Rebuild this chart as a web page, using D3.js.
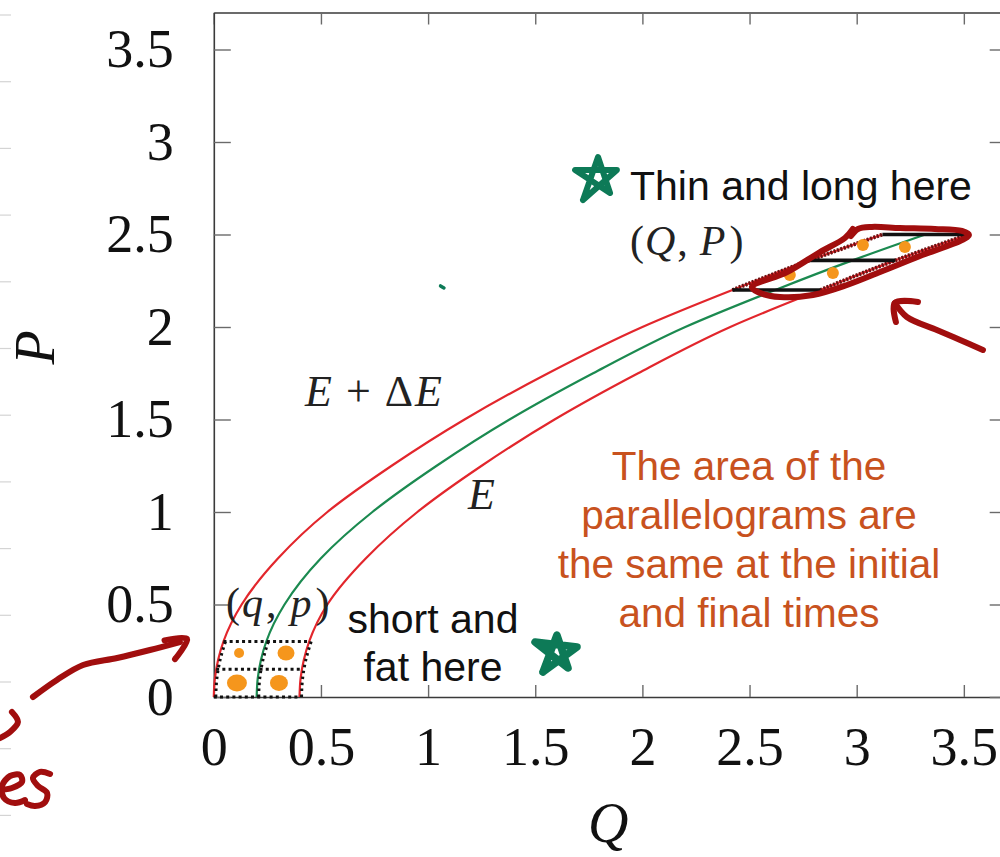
<!DOCTYPE html>
<html>
<head>
<meta charset="utf-8">
<script src="https://cdn.jsdelivr.net/npm/d3@7"></script>
<style>
  body { margin: 0; background: #fff; }
  svg { display: block; }
</style>
</head>
<body>
<script>
// chart values
var qTicks = [0, 0.5, 1, 1.5, 2, 2.5, 3, 3.5];
var qTickLabels = ["0", "0.5", "1", "1.5", "2", "2.5", "3", "3.5"];
var pTicks = [0, 0.5, 1, 1.5, 2, 2.5, 3, 3.5];
var pTickLabels = ["0", "0.5", "1", "1.5", "2", "2.5", "3", "3.5"];

// energy curves, Q read at each P
var curveP = [0, 0.1, 0.2, 0.3, 0.5, 0.75, 1, 1.25, 1.5, 1.75, 2, 2.2, 2.36, 2.5];
var innerQ = [0, 0.005, 0.02, 0.045, 0.13, 0.3, 0.53, 0.83, 1.17, 1.56, 2.0, 2.42, 2.78, 3.12];
var middleQ = [0.2, 0.205, 0.22, 0.245, 0.33, 0.5, 0.74, 1.04, 1.38, 1.77, 2.2, 2.62, 2.98, 3.32];
var outerQ = [0.4, 0.405, 0.42, 0.445, 0.53, 0.71, 0.95, 1.25, 1.59, 1.98, 2.41, 2.83, 3.18, 3.52];

// horizontal edges of the cells: [P, Q start, Q end]
var initialEdges = [[0, 0, 0.4], [0.15, 0.011, 0.411], [0.3, 0.045, 0.445]];
var finalEdges = [[2.2, 2.42, 2.83], [2.36, 2.78, 3.18], [2.5, 3.12, 3.52]];

// orange points [Q, P]
var initialPoints = [[0.118, 0.238], [0.337, 0.238], [0.108, 0.076], [0.304, 0.076]];
var finalPoints = [[2.688, 2.281], [2.889, 2.292], [3.029, 2.443], [3.225, 2.432]];

// hand drawn notes, in [Q, P]
var loopStroke = [[2.973, 2.492], [3.006, 2.530], [3.071, 2.541], [3.202, 2.535], [3.365, 2.530],
  [3.491, 2.519], [3.524, 2.497], [3.491, 2.470], [3.295, 2.384], [3.109, 2.297], [2.955, 2.227],
  [2.796, 2.173], [2.642, 2.162], [2.539, 2.189], [2.511, 2.216], [2.675, 2.297], [2.829, 2.405],
  [2.945, 2.481], [2.982, 2.530]];
var rightArrow = [[3.589, 1.876], [3.483, 1.930], [3.374, 1.984], [3.234, 2.054], [3.178, 2.130]];
var rightArrowHead = [[3.183, 2.027], [3.178, 2.130], [3.286, 2.135]];
var leftArrow = [[-0.844, 0], [-0.732, 0.092], [-0.610, 0.173], [-0.451, 0.211], [-0.298, 0.254], [-0.158, 0.297]];
var leftArrowHead = [[-0.230, 0.306], [-0.125, 0.314], [-0.181, 0.205]];
var letterS1 = [[-0.942, -0.081], [-0.914, -0.135], [-0.951, -0.189], [-0.998, -0.222]];
var letterE = [[-0.998, -0.503], [-0.942, -0.492], [-0.895, -0.459], [-0.904, -0.422], [-0.951, -0.427],
  [-0.988, -0.481], [-0.979, -0.546], [-0.928, -0.573], [-0.881, -0.557]];
var letterS2 = [[-0.764, -0.416], [-0.811, -0.405], [-0.844, -0.438], [-0.820, -0.481], [-0.778, -0.519],
  [-0.787, -0.568], [-0.834, -0.589], [-0.872, -0.578]];
var starTop = [[1.723, 2.686], [1.793, 2.919], [1.849, 2.724], [1.686, 2.849], [1.881, 2.849], [1.723, 2.686]];
var starBottom = [[1.536, 0.135], [1.601, 0.335], [1.653, 0.157], [1.499, 0.297], [1.695, 0.270], [1.536, 0.135]];
var greenSpeck = [[1.058, 2.222], [1.074, 2.211]];

var noteLines = ["The area of the", "parallelograms are", "the same at the initial", "and final times"];

var svgWidth = 1000;
var svgHeight = 857;

var svg = d3.select("body")
  .append("svg")
  .attr("width", svgWidth)
  .attr("height", svgHeight);

var xScale = d3.scaleLinear().domain([0, 3.7]).range([213.8, 1006.7]);
var yScale = d3.scaleLinear().domain([0, 3.7]).range([697, 12.5]);

// faint notebook rules on the left edge
svg.append("g")
  .selectAll("line")
  .data(d3.range(13))
  .enter()
  .append("line")
  .attr("x1", 0)
  .attr("x2", 11)
  .attr("y1", i => 15 + i * 66.7)
  .attr("y2", i => 15 + i * 66.7)
  .attr("stroke", "#d4d4d4")
  .attr("stroke-width", 1.2);

var tickFont = "'Liberation Serif', 'Times New Roman', serif";

function styleAxis(g) {
  g.select(".domain").attr("stroke", "#3a3a3a").attr("stroke-width", 1.6);
  g.selectAll(".tick line").attr("stroke", "#6a6a6a").attr("stroke-width", 1.4);
  g.selectAll(".tick text")
    .attr("fill", "#111")
    .style("font-family", tickFont)
    .style("font-size", "54px");
}

svg.append("g")
  .attr("transform", `translate(0, ${yScale(0)})`)
  .call(d3.axisBottom(xScale).tickValues(qTicks).tickSize(-12).tickSizeOuter(0).tickPadding(30)
    .tickFormat((d, i) => qTickLabels[i]))
  .call(styleAxis);

svg.append("g")
  .attr("transform", `translate(0, ${yScale(3.7)})`)
  .call(d3.axisTop(xScale).tickValues(qTicks).tickSize(-12).tickSizeOuter(0).tickFormat(""))
  .call(styleAxis);

svg.append("g")
  .attr("transform", `translate(${xScale(0)}, 0)`)
  .call(d3.axisLeft(yScale).tickValues(pTicks).tickSize(-17).tickSizeOuter(0).tickPadding(40)
    .tickFormat((d, i) => pTickLabels[i]))
  .call(styleAxis);

svg.append("g")
  .attr("transform", `translate(${xScale(3.7)}, 0)`)
  .call(d3.axisRight(yScale).tickValues(pTicks).tickSize(-17).tickSizeOuter(0).tickFormat(""))
  .call(styleAxis);

// axis titles
svg.append("text")
  .attr("x", xScale(1.84))
  .attr("y", 842)
  .attr("text-anchor", "middle")
  .style("font-family", tickFont)
  .style("font-style", "italic")
  .style("font-size", "56px")
  .attr("fill", "#111")
  .text("Q");

svg.append("text")
  .attr("transform", `translate(54, ${yScale(1.89)}) rotate(-90)`)
  .attr("text-anchor", "middle")
  .style("font-family", tickFont)
  .style("font-style", "italic")
  .style("font-size", "56px")
  .attr("fill", "#111")
  .text("P");

var line = d3.line()
  .x(d => xScale(d[0]))
  .y(d => yScale(d[1]));

var smooth = d3.line()
  .x(d => xScale(d[0]))
  .y(d => yScale(d[1]))
  .curve(d3.curveCatmullRom);

var spline = d3.line()
  .x(d => xScale(d[0]))
  .y(d => yScale(d[1]))
  .curve(d3.curveMonotoneY);

var curves = [
  { q: innerQ, color: "#e2262c" },
  { q: middleQ, color: "#1b8a50" },
  { q: outerQ, color: "#e2262c" }
];

curves.forEach(function(c) {
  var pts = curveP.map((p, i) => [c.q[i], p]);
  svg.append("path")
    .attr("d", spline(pts))
    .attr("fill", "none")
    .attr("stroke", c.color)
    .attr("stroke-width", 2.2);
  c.pts = pts;
});

// dotted cell sides at the start
curves.forEach(function(c) {
  svg.append("path")
    .attr("d", spline(c.pts.slice(0, 4)))
    .attr("fill", "none")
    .attr("stroke", "#111")
    .attr("stroke-width", 3)
    .attr("stroke-dasharray", "2.5 3.5")
    .attr("transform", "translate(2,0)");
});

initialEdges.forEach(function(e) {
  svg.append("path")
    .attr("d", line([[e[1], e[0]], [e[2], e[0]]]))
    .attr("stroke", "#111")
    .attr("stroke-width", 3.2)
    .attr("stroke-dasharray", "3 3.2");
});

// final cell: dark sides and solid edges
[curves[0], curves[2]].forEach(function(c) {
  svg.append("path")
    .attr("d", spline(c.pts.slice(11)))
    .attr("fill", "none")
    .attr("stroke", "#6a1212")
    .attr("stroke-width", 4)
    .attr("stroke-dasharray", "2 1.5");
});

finalEdges.forEach(function(e) {
  svg.append("path")
    .attr("d", line([[e[1], e[0]], [e[2], e[0]]]))
    .attr("stroke", "#111")
    .attr("stroke-width", 3.6);
});

var dotRx = [5, 8.5, 10, 9];
var dotRy = [5, 7.5, 8.5, 8];

svg.append("g")
  .selectAll("ellipse")
  .data(initialPoints)
  .enter()
  .append("ellipse")
  .attr("cx", d => xScale(d[0]))
  .attr("cy", d => yScale(d[1]))
  .attr("rx", (d, i) => dotRx[i])
  .attr("ry", (d, i) => dotRy[i])
  .attr("fill", "#f5961c");

svg.append("g")
  .selectAll("circle")
  .data(finalPoints)
  .enter()
  .append("circle")
  .attr("cx", d => xScale(d[0]))
  .attr("cy", d => yScale(d[1]))
  .attr("r", 6)
  .attr("fill", "#f5961c");

// text labels
var mathFont = tickFont;

var ede = svg.append("text")
  .attr("x", 305)
  .attr("y", 406)
  .style("font-family", mathFont)
  .style("font-size", "44px")
  .attr("fill", "#222");
ede.append("tspan").style("font-style", "italic").text("E");
ede.append("tspan").attr("dx", 14).text("+");
ede.append("tspan").attr("dx", 14).text("Δ");
ede.append("tspan").attr("dx", 2).style("font-style", "italic").text("E");

svg.append("text")
  .attr("x", 468)
  .attr("y", 509)
  .style("font-family", mathFont)
  .style("font-style", "italic")
  .style("font-size", "44px")
  .attr("fill", "#222")
  .text("E");

var qp = svg.append("text")
  .attr("x", 630)
  .attr("y", 255)
  .style("font-family", mathFont)
  .style("font-size", "42px")
  .attr("fill", "#222");
qp.append("tspan").text("(");
qp.append("tspan").attr("dx", 1).style("font-style", "italic").text("Q");
qp.append("tspan").attr("dx", 2).text(",");
qp.append("tspan").attr("dx", 12).style("font-style", "italic").text("P");
qp.append("tspan").attr("dx", 4).text(")");

var qp2 = svg.append("text")
  .attr("x", 226)
  .attr("y", 617)
  .style("font-family", mathFont)
  .style("font-size", "42px")
  .attr("fill", "#222");
qp2.append("tspan").text("(");
qp2.append("tspan").attr("dx", 2).style("font-style", "italic").text("q");
qp2.append("tspan").attr("dx", 3).text(",");
qp2.append("tspan").attr("dx", 14).style("font-style", "italic").text("p");
qp2.append("tspan").attr("dx", 4).text(")");

var sans = "'Liberation Sans', Arial, Helvetica, sans-serif";

svg.append("text")
  .attr("x", 630)
  .attr("y", 200)
  .style("font-family", sans)
  .style("font-size", "41px")
  .attr("fill", "#111")
  .text("Thin and long here");

svg.append("text")
  .attr("x", 433)
  .attr("y", 633)
  .attr("text-anchor", "middle")
  .style("font-family", sans)
  .style("font-size", "41px")
  .attr("fill", "#111")
  .text("short and");

svg.append("text")
  .attr("x", 433)
  .attr("y", 681)
  .attr("text-anchor", "middle")
  .style("font-family", sans)
  .style("font-size", "41px")
  .attr("fill", "#111")
  .text("fat here");

svg.append("g")
  .selectAll("text")
  .data(noteLines)
  .enter()
  .append("text")
  .attr("x", 749)
  .attr("y", (d, i) => 480 + i * 49)
  .attr("text-anchor", "middle")
  .style("font-family", sans)
  .style("font-size", "40.5px")
  .attr("fill", "#c8521e")
  .text(d => d);

// hand drawn marks
var redInk = "#a10e0e";
[loopStroke, rightArrow, rightArrowHead, leftArrow, leftArrowHead, letterS1, letterE, letterS2]
  .forEach(function(s) {
    svg.append("path")
      .attr("d", smooth(s))
      .attr("fill", "none")
      .attr("stroke", redInk)
      .attr("stroke-width", 6)
      .attr("stroke-linecap", "round")
      .attr("stroke-linejoin", "round");
  });

var greenInk = "#0d7a57";
svg.append("path")
  .attr("d", line(starTop))
  .attr("fill", "none")
  .attr("stroke", greenInk)
  .attr("stroke-width", 6)
  .attr("stroke-linecap", "round")
  .attr("stroke-linejoin", "round");

svg.append("path")
  .attr("d", line(starBottom))
  .attr("fill", "none")
  .attr("stroke", greenInk)
  .attr("stroke-width", 7.5)
  .attr("stroke-linecap", "round")
  .attr("stroke-linejoin", "round");

svg.append("path")
  .attr("d", line(greenSpeck))
  .attr("stroke", greenInk)
  .attr("stroke-width", 3.5)
  .attr("stroke-linecap", "round");
</script>
</body>
</html>
